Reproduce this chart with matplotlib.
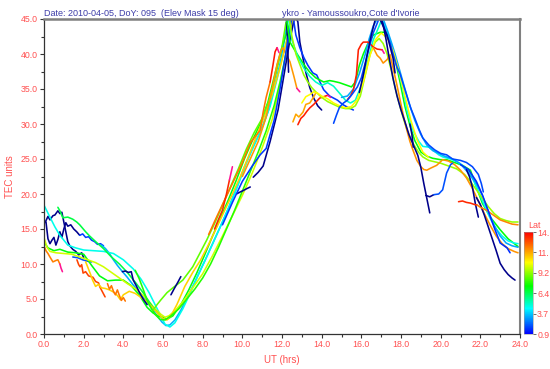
import matplotlib
matplotlib.use("Agg")
import matplotlib.pyplot as plt
from matplotlib.colors import LinearSegmentedColormap, Normalize
from matplotlib.cm import ScalarMappable
from matplotlib.ticker import MultipleLocator

# ---------------- data (UT hours, TEC units, latitude of pierce point) ----------------
ut_01 = [0.05,0.2,0.3,0.45,0.55,0.7,0.8,0.9,1.0,1.1,1.2,1.3,1.45,1.6,1.75,1.9,2.0]
tec_01 = [15.9,16.8,16.3,16.9,17.0,17.6,17.2,17.4,16.0,14.6,13.2,12.6,12.1,11.8,11.3,11.6,10.9]
ut_02 = [0.1,0.2,0.3,0.4,0.5,0.6,0.7,0.8,0.9,1.0,1.1,1.2,1.35,1.5,1.65,1.8]
tec_02 = [16.0,13.6,12.9,13.4,13.8,12.7,13.5,14.6,13.8,15.0,15.9,15.4,15.6,15.0,14.6,14.1]
ut_03 = [1.8,1.95,2.1,2.25,2.4,2.55,2.7,2.85,3.0]
tec_03 = [14.1,14.3,13.8,13.9,13.4,13.2,12.8,12.9,12.6]
ut_04 = [1.45,1.7,1.95,2.2,2.4]
tec_04 = [11.0,10.9,10.6,10.4,10.3]
ut_05 = [2.9,3.1,3.3,3.5,3.7,3.9,4.2,4.5,4.8,5.1,5.4,5.7,5.95,6.15,6.35,6.6,6.9,7.3,7.7,8.1,8.5,8.9,9.3,9.7,10.1,10.5,10.9,11.3,11.6,11.9,12.1,12.3]
tec_05 = [12.7,12.2,11.5,10.6,9.8,9.1,8.1,7.0,6.0,4.9,3.8,2.6,1.7,1.2,1.3,2.0,3.4,5.6,8.0,10.4,12.9,15.4,18.0,20.8,23.8,26.5,28.8,31.8,35.0,38.6,41.6,45.5]
ut_06 = [0.0,0.3,0.55,0.8,1.2,1.6,2.0,2.5,3.0,3.5,4.0,4.5,4.9,5.3,5.6,5.9,6.1,6.35,6.6,7.0,7.4,7.8,8.2,8.6,9.0,9.4,9.8,10.2,10.6,11.0,11.4,11.8,12.1,12.4,12.6]
tec_06 = [18.4,16.7,15.3,14.1,12.7,12.3,12.0,11.9,11.8,11.5,10.6,9.3,7.8,5.9,4.2,2.5,1.4,1.0,1.6,3.6,6.0,8.6,11.0,13.5,16.0,18.6,21.4,24.4,27.0,29.5,32.5,37.0,40.5,43.5,45.5]
ut_07 = [0.0,0.2,0.5,0.8,1.2,1.6,2.0,2.4,2.8,3.2,3.6,4.0,4.4,4.8,5.2,5.5,5.8,6.0,6.2,6.5,6.9,7.3,7.7,8.1,8.5,8.9,9.3,9.7,10.1,10.5,10.9,11.3,11.7,12.0,12.3,12.5]
tec_07 = [13.2,12.3,11.9,12.1,11.7,11.6,11.4,9.8,8.3,7.6,7.7,7.7,6.9,5.6,3.8,3.0,2.5,2.4,2.1,2.6,4.2,6.3,8.7,11.3,14.0,16.6,19.2,22.0,25.0,27.6,30.0,33.2,37.8,41.0,43.5,45.5]
ut_08 = [0.0,0.15,0.3,0.6,1.0,1.4,1.8,2.2,2.6,3.0,3.4,3.8,4.2,4.6,5.0,5.3,5.6,5.9,6.1,6.3,6.6,7.0,7.5,8.0,8.5,9.0,9.5,10.0,10.5,11.0,11.5,11.9,12.2,12.45,12.6]
tec_08 = [13.8,12.4,11.8,11.6,11.5,11.4,11.0,10.6,10.2,9.6,8.8,8.0,7.2,6.5,5.5,4.6,3.6,2.8,2.4,2.6,3.3,4.6,6.6,8.6,11.2,14.0,16.9,19.8,23.0,26.6,30.6,35.5,40.0,43.8,45.5]
ut_09 = [0.0,0.1,0.2,0.3,0.45,0.6,0.7,0.8]
tec_09 = [12.6,11.9,11.5,11.0,10.3,10.5,10.6,10.0]
ut_10 = [0.8,0.86,0.93]
tec_10 = [10.0,9.4,8.9]
ut_11 = [0.7,0.8,0.95,1.2,1.45,1.65,1.8,1.95,2.1,2.3,2.6,3.0,3.4,3.8,4.2,4.6,5.0,5.35,5.6,5.85]
tec_11 = [18.1,17.6,16.6,16.7,16.4,16.0,15.6,15.1,14.6,14.0,13.2,12.2,11.0,10.0,8.8,7.4,5.9,4.4,3.4,2.6]
ut_12 = [1.66,1.75,1.82,1.9,1.97,2.1,2.25,2.47,2.6,2.75,2.82,2.95,3.08]
tec_12 = [10.6,9.9,9.6,9.9,8.7,8.9,8.3,8.1,7.5,7.3,6.7,6.0,5.3]
ut_13 = [2.1,2.2,2.35,2.45,2.6,2.75,2.9,3.1,3.3,3.5,3.7,3.85,4.0,4.3,4.6,4.9,5.2,5.5,5.75,6.0,6.2,6.4,6.7,7.1,7.5,7.9,8.3,8.7,9.1,9.5,9.9,10.3,10.7,11.1,11.5,11.9,12.2,12.45,12.6]
tec_13 = [10.3,9.6,8.5,7.7,6.8,7.1,6.6,6.5,6.3,6.0,5.5,4.9,5.6,6.1,5.8,5.2,4.6,3.7,2.9,2.2,2.0,2.6,4.2,6.8,8.8,10.6,12.8,15.2,17.6,20.0,22.5,25.3,28.2,31.0,34.2,38.0,41.5,44.2,45.5]
ut_14 = [3.2,3.3,3.4,3.5,3.6,3.7,3.8,3.9,4.0,4.1]
tec_14 = [7.2,6.4,6.9,6.1,5.6,6.3,5.5,4.8,5.2,4.7]
ut_15 = [3.95,4.1,4.25,4.4,4.5,4.65,4.8,5.0,5.2]
tec_15 = [8.9,9.0,8.8,8.9,7.7,6.9,6.0,5.0,4.2]
ut_16 = [4.6,4.8,5.0,5.2,5.4,5.6,5.85,6.1,6.4,6.8,7.2,7.6,8.0,8.4,8.8,9.2,9.6,10.0,10.4,10.8,11.2,11.6,11.9,12.2,12.4]
tec_16 = [9.1,7.9,6.4,4.8,3.7,2.8,2.1,2.0,2.6,3.6,5.0,6.4,8.0,10.0,12.4,15.0,17.6,20.4,23.2,26.0,29.0,32.6,36.0,40.0,43.0]
ut_17 = [5.5,5.7,5.9,6.2,6.5,7.0,7.5,7.87,8.2,8.6,9.0,9.4,9.8,10.2,10.6,11.0,11.4,11.7,12.0,12.2]
tec_17 = [3.4,4.2,4.9,5.9,6.6,7.7,9.6,11.6,13.4,15.8,18.4,21.0,23.6,26.4,28.8,30.8,33.8,37.2,41.0,44.5]
ut_18 = [6.4,6.55,6.75,6.9]
tec_18 = [5.6,6.4,7.4,8.2]
ut_19 = [8.3,8.7,9.0,9.5,10.0,10.4,10.7,10.9,11.05,11.2,11.4]
tec_19 = [14.2,16.7,18.5,21.5,24.5,27.3,28.4,29.1,31.7,33.8,36.0]
ut_20 = [11.4,11.55,11.65,11.75]
tec_20 = [36.0,38.5,40.3,40.9]
ut_21 = [11.75,11.85]
tec_21 = [40.9,40.2]
ut_22 = [8.6,8.8,9.0,9.2,9.35]
tec_22 = [15.0,16.4,17.7,20.0,22.0]
ut_23 = [9.35,9.5]
tec_23 = [22.0,23.9]
ut_24 = [10.0,10.4,10.8,11.2,11.5,11.75,11.95,12.05,12.2,12.4,12.6,12.75]
tec_24 = [22.5,25.0,27.5,31.0,35.0,38.5,40.5,40.9,40.0,38.9,36.8,35.1]
ut_25 = [12.75,12.9]
tec_25 = [35.1,34.6]
ut_26 = [9.7,9.9,10.05,10.25,10.4]
tec_26 = [20.0,20.3,20.5,20.8,21.0]
ut_27 = [10.55,10.8,11.05,11.4,11.8,12.1,12.4,12.65,12.8,12.9,13.05,13.2,13.4,13.6,13.8,14.0]
tec_27 = [22.4,23.1,24.0,27.5,32.0,37.0,42.0,45.5,44.6,41.7,39.5,37.4,35.2,33.7,32.6,32.0]
ut_28 = [12.2,12.27,12.3,12.33]
tec_28 = [46.0,42.5,40.0,37.4]
ut_29 = [9.0,9.5,10.0,10.5,10.9,11.2,11.6,11.9,12.1,12.3,12.45,12.55,12.7,12.9,13.1,13.3,13.55,13.75,14.1,14.4,14.8,15.05,15.3,15.6]
tec_29 = [15.6,18.8,21.8,24.0,25.6,26.5,30.5,35.0,38.5,42.0,44.5,45.5,42.7,40.9,39.5,38.4,37.3,37.0,34.9,34.0,33.4,32.8,32.4,32.0]
ut_30 = [12.55,12.7,12.85,13.06,13.2,13.4,13.56,13.7]
tec_30 = [30.3,31.4,31.0,31.7,32.8,33.0,33.7,34.4]
ut_31 = [12.8,12.95,13.1,13.25,13.4,13.6,13.9,14.1,14.3]
tec_31 = [29.9,30.8,31.2,31.8,32.3,32.8,33.7,33.9,34.1]
ut_32 = [14.3,14.45]
tec_32 = [34.1,33.8]
ut_33 = [12.2,12.4,12.65,12.9,13.15,13.4,13.7,14.1,14.4,14.6,14.9,15.2,15.5,15.7,15.9,16.1,16.3,16.6,16.95,17.2,17.45,17.7,17.95,18.2,18.45,18.7,19.0,19.3,19.6,20.0,20.3,20.7,21.1,21.5,21.8,22.1,22.5,23.0,23.4,23.9]
tec_33 = [45.5,41.7,40.5,39.4,38.3,37.4,36.6,36.0,36.2,36.1,35.9,35.6,35.3,36.0,38.4,40.0,41.3,42.7,43.1,43.1,41.8,39.3,36.0,32.5,29.8,27.6,26.0,25.4,25.1,24.9,24.9,24.5,24.1,23.4,21.0,18.7,16.7,14.9,13.6,12.5]
ut_34 = [12.3,12.5,12.8,13.1,13.4,13.7,14.0,14.3,14.6,14.9,15.2,15.45,15.7,16.0,16.3,16.6,16.9,17.1,17.3]
tec_34 = [45.5,42.0,39.6,38.0,36.8,36.0,35.5,35.9,35.4,34.4,33.4,33.0,33.4,35.5,38.8,42.0,44.0,45.5,46.0]
ut_35 = [16.9,17.1,17.3,17.5,17.7,17.9,18.1,18.3,18.6,18.9,19.1,19.4,19.6,19.9,20.1,20.5,20.9,21.3,21.6,21.9,22.2,22.5,22.8,23.1,23.4,23.7,23.9]
tec_35 = [45.5,44.5,43.0,41.5,39.5,37.3,35.0,32.0,29.1,27.5,26.8,26.7,26.3,25.6,25.3,25.0,24.5,23.6,22.3,20.4,18.4,16.5,15.0,14.0,13.3,13.0,12.9]
ut_36 = [15.0,15.3,15.6,15.9,16.2,16.4,16.6,16.9,17.1,17.3,17.5,17.7,17.9,18.1,18.4,18.7,19.0,19.3,19.6,19.9,20.2,20.6,21.0,21.4,21.8,22.1,22.4,22.7,23.0,23.3,23.6,23.9]
tec_36 = [33.8,34.0,35.0,37.2,40.0,42.2,44.0,45.5,45.0,43.5,41.8,40.0,38.0,36.0,33.0,30.5,28.5,27.0,26.2,25.8,25.4,25.0,24.3,23.0,21.5,19.8,17.5,15.5,14.0,13.0,12.6,12.4]
ut_37 = [12.35,12.5,12.7,12.9,13.1,13.3,13.5,13.7,14.0,14.3,14.6,14.9,15.2,15.45,15.7,15.95,16.2,16.45,16.7,16.9,17.1,17.3,17.5,17.7,17.9,18.1,18.3,18.5,18.7,18.9,19.1,19.4,19.7,20.0,20.4,20.8,21.2,21.5,21.8,22.1,22.4,22.7,23.0,23.3,23.6,23.9]
tec_37 = [45.5,42.5,40.0,38.5,37.0,36.0,35.2,34.6,33.8,33.2,32.8,32.4,32.2,32.2,32.6,34.0,37.0,40.0,41.7,42.2,41.5,40.0,37.8,35.2,33.0,31.0,29.2,27.8,26.8,25.9,25.3,24.8,24.6,24.4,24.0,23.6,22.8,21.8,20.6,19.4,18.2,17.2,16.5,16.2,16.0,16.0]
ut_38 = [13.0,13.2,13.4,13.6,13.8,14.0,14.3,14.6,14.9,15.2,15.5,15.8,16.1,16.4,16.7,17.0,17.3,17.6,17.9,18.2,18.5,18.8,19.1,19.4]
tec_38 = [33.0,33.9,34.2,34.6,34.4,34.0,33.6,33.0,32.6,32.3,32.5,33.5,36.0,39.5,42.0,43.0,42.3,40.5,37.5,34.0,30.5,27.8,26.0,25.2]
ut_39 = [15.3,15.45,15.6,15.75,15.85,16.0,16.1,16.35,16.6,16.8,17.05]
tec_39 = [33.5,34.0,34.9,37.0,40.6,41.4,41.7,41.7,41.0,40.7,40.6]
ut_40 = [17.05,17.15]
tec_40 = [40.6,40.1]
ut_41 = [16.6,16.8,16.95,17.1,17.3,17.45,17.6,17.8,18.0,18.15,18.3,18.45,18.6,18.8,19.0,19.15,19.3,19.5,19.8,20.1,20.4,20.7,21.0,21.3,21.6,21.9,22.2,22.5,22.8,23.1,23.4,23.7,23.9]
tec_41 = [40.9,39.8,39.4,38.7,39.2,39.9,38.0,35.5,32.8,30.8,29.1,27.5,26.3,24.8,23.9,23.5,23.4,23.7,24.1,24.9,24.7,24.2,23.4,22.3,20.8,19.0,17.2,15.5,14.0,12.9,12.2,11.8,11.6]
ut_42 = [14.6,14.75,14.9,15.1,15.3,15.55,15.8,16.0,16.1,16.25,16.4,16.6,16.8,16.95,17.1,17.3,17.45,17.6,17.8,17.95,18.1,18.3,18.5,18.7,18.9,19.1,19.4,19.7,20.0,20.3,20.6,21.0,21.3,21.6,21.9,22.05,22.15]
tec_42 = [30.1,31.3,32.4,33.0,33.4,34.3,35.3,36.6,37.7,39.3,41.0,43.0,44.4,45.5,44.2,42.5,41.6,40.0,38.1,37.2,35.8,34.0,32.2,30.8,29.3,28.0,27.0,26.3,25.8,25.6,25.0,24.8,24.5,23.9,22.8,21.5,20.3]
ut_43 = [15.9,16.1,16.3,16.5,16.7,16.85,17.0,17.3,17.6,17.7]
tec_43 = [34.5,37.0,40.0,42.7,44.9,45.5,44.6,42.7,39.4,37.3]
ut_44 = [16.95,17.1,17.25,17.4,17.6,17.8,18.0,18.2,18.4,18.55,18.7,18.85,19.0,19.15,19.3,19.45]
tec_44 = [45.5,44.2,42.0,39.5,36.5,34.0,32.0,30.3,28.5,27.5,26.5,25.5,23.8,21.5,19.4,17.3]
ut_45 = [19.25,19.45,19.65]
tec_45 = [19.8,19.6,19.9]
ut_46 = [19.65,19.9,20.1,20.3,20.5,20.6]
tec_46 = [19.9,20.0,20.6,23.0,24.2,24.4]
ut_47 = [21.3,21.45,21.6,21.75,21.9]
tec_47 = [23.5,22.5,21.0,18.6,16.7]
ut_48 = [21.8,22.0,22.2,22.4,22.6,22.8,23.0,23.2,23.4,23.6,23.75]
tec_48 = [19.5,18.5,17.0,15.3,13.6,11.9,10.1,9.2,8.5,8.0,7.7]
ut_49 = [20.9,21.1,21.3,21.5,21.7,21.85]
tec_49 = [18.9,19.0,18.8,18.7,18.5,18.4]
ut_50 = [21.85,22.0,22.3,22.6,23.0,23.3,23.6,23.9]
tec_50 = [18.4,18.1,17.7,17.1,16.3,16.0,15.7,15.6]
ut_51 = [21.0,21.4,21.8,22.1,22.4,22.7,23.0,23.35,23.5]
tec_51 = [24.2,23.5,21.8,19.9,17.6,15.2,13.0,12.3,11.6]
ut_52 = [18.45,18.55,18.62]
tec_52 = [30.0,28.5,26.7]

lat_tracks = [0.5, 0.4, 1.8, 2.0, 3.3, 4.6, 7.2, 10.0, 12.6, 16.0,
              6.6, 13.6, 11.3, 12.8, 0.5, 7.8, 8.6, 0.5, 12.8, 14.3,
              16.0, 14.0, 16.0, 12.2, 16.0, 0.5, 0.5, 0.5, 1.7, 12.0,
              14.2, 16.0, 7.3, 5.0, 4.6, 3.2, 9.3, 10.6, 14.2, 16.0,
              12.3, 1.9, 0.5, 0.5, 0.5, 2.0, 0.5, 0.5, 14.0, 12.5,
              1.5, 0.5]

ut_tracks = [ut_01, ut_02, ut_03, ut_04, ut_05, ut_06, ut_07, ut_08, ut_09, ut_10,
             ut_11, ut_12, ut_13, ut_14, ut_15, ut_16, ut_17, ut_18, ut_19, ut_20,
             ut_21, ut_22, ut_23, ut_24, ut_25, ut_26, ut_27, ut_28, ut_29, ut_30,
             ut_31, ut_32, ut_33, ut_34, ut_35, ut_36, ut_37, ut_38, ut_39, ut_40,
             ut_41, ut_42, ut_43, ut_44, ut_45, ut_46, ut_47, ut_48, ut_49, ut_50,
             ut_51, ut_52]
tec_tracks = [tec_01, tec_02, tec_03, tec_04, tec_05, tec_06, tec_07, tec_08, tec_09, tec_10,
              tec_11, tec_12, tec_13, tec_14, tec_15, tec_16, tec_17, tec_18, tec_19, tec_20,
              tec_21, tec_22, tec_23, tec_24, tec_25, tec_26, tec_27, tec_28, tec_29, tec_30,
              tec_31, tec_32, tec_33, tec_34, tec_35, tec_36, tec_37, tec_38, tec_39, tec_40,
              tec_41, tec_42, tec_43, tec_44, tec_45, tec_46, tec_47, tec_48, tec_49, tec_50,
              tec_51, tec_52]

cbar_ticks = [0.9, 3.66, 6.42, 9.18, 11.94, 14.7]
cbar_labels = ['0.9', '3.7', '6.4', '9.2', '11.', '14.']
title_left = "Date: 2010-04-05, DoY: 095  (Elev Mask 15 deg)"
title_right = "ykro - Yamoussoukro,Cote d'Ivorie"

# ---------------- figure ----------------
plt.rcParams['font.family'] = ['Liberation Sans', 'DejaVu Sans']
RED = '#ff5050'
TITLE = '#3c3ca8'

fig = plt.figure(figsize=(5.5, 3.69), dpi=100)
ax = fig.add_axes([44/550, 1-334/369, 476/550, 315/369])

cmap = LinearSegmentedColormap.from_list(
    'lat', [(0.0, '#0000ff'), (0.25, '#00ffff'), (0.47, '#00ff00'),
            (0.7, '#ffff00'), (1.0, '#ff0000')])
cmap.set_under('#00008b')
cmap.set_over('#ff1493')
norm = Normalize(vmin=0.9, vmax=14.7)

for lat, ut, tec in zip(lat_tracks, ut_tracks, tec_tracks):
    ax.plot(ut, tec, color=cmap(norm(lat)), lw=1.15, solid_capstyle='round')

ax.set_xlim(0, 24)
ax.set_ylim(0, 45)
ax.xaxis.set_major_locator(MultipleLocator(2))
ax.xaxis.set_minor_locator(MultipleLocator(1))
ax.yaxis.set_major_locator(MultipleLocator(5))
ax.yaxis.set_minor_locator(MultipleLocator(2.5))
ax.xaxis.set_major_formatter(plt.FormatStrFormatter('%.1f'))
ax.yaxis.set_major_formatter(plt.FormatStrFormatter('%.1f'))
ax.tick_params(which='major', direction='out', length=3, width=0.8,
               labelsize=6.3, labelcolor=RED, color='#333333', pad=1.5)
ax.tick_params(which='minor', direction='out', length=2, width=0.8, color='#333333')

for s in ['left', 'bottom']:
    ax.spines[s].set_color('#333333')
    ax.spines[s].set_linewidth(0.9)
ax.spines['top'].set_color('#808080')
ax.spines['top'].set_linewidth(1.8)
ax.spines['right'].set_color('#808080')
ax.spines['right'].set_linewidth(1.5)

ax.set_ylabel('TEC units', color=RED, fontsize=7, labelpad=4)
ax.set_xlabel('UT (hrs)', color=RED, fontsize=7, labelpad=4)

fig.text(44/550, 1-13/369, title_left, color=TITLE, fontsize=6.5, va='center', ha='left')
fig.text(282/550, 1-13/369, title_right, color=TITLE, fontsize=6.5, va='center', ha='left')

# colorbar
cax = fig.add_axes([524/550, 1-334/369, 9/550, 102/369])
cb = fig.colorbar(ScalarMappable(norm=norm, cmap=cmap), cax=cax)
cb.set_ticks(cbar_ticks)
cb.set_ticklabels(cbar_labels)
cb.ax.tick_params(labelsize=6.3, labelcolor=RED, length=2, width=0.6,
                  color='#555555', pad=1)
cb.outline.set_linewidth(0.4)
cb.outline.set_edgecolor('#999999')
fig.text(528/550, 1-225/369, 'Lat', color=RED, fontsize=6.5, ha='left', va='center')

fig.savefig('out.png', dpi=100)
